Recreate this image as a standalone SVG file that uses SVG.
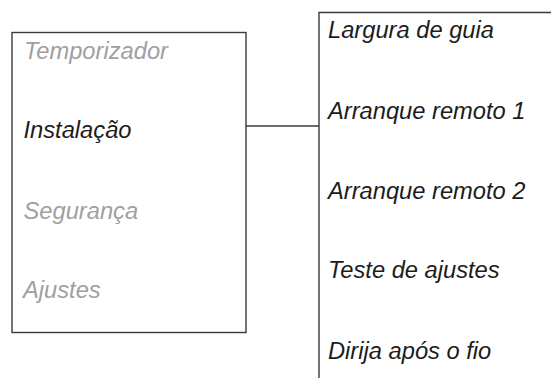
<svg xmlns="http://www.w3.org/2000/svg" width="551" height="378" viewBox="0 0 551 378">
<style>
.box{fill:none;stroke:#3a3a3a;stroke-width:1.4}
.t{font-family:"Liberation Sans",Arial,sans-serif;font-style:italic;font-size:23.7px}
.g{fill:#a0a0a0}
.k{fill:#1c1c1c}
</style>
<rect width="551" height="378" fill="#fff"/>
<g id="menu-left">
<rect class="box" x="12" y="32.5" width="234" height="300"/>
<text class="t g" x="24" y="58.5">Temporizador</text>
<text class="t k" x="23.5" y="138">Instalação</text>
<text class="t g" x="23.5" y="219">Segurança</text>
<text class="t g" x="23" y="298">Ajustes</text>
</g>
<g id="menu-right">
<path class="box" d="M319,378 V12.5 H551"/>
<text class="t k" x="328" y="37.5">Largura de guia</text>
<text class="t k" x="328" y="119">Arranque remoto 1</text>
<text class="t k" x="328" y="199">Arranque remoto 2</text>
<text class="t k" x="328" y="278">Teste de ajustes</text>
<text class="t k" x="328" y="359">Dirija após o fio</text>
</g>
<g id="connectors">
<line class="box" x1="246" y1="126" x2="319" y2="126"/>
</g>
</svg>
